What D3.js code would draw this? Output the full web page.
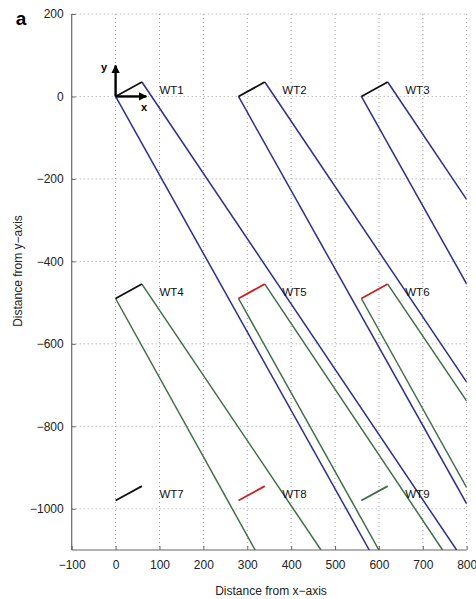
<!DOCTYPE html>
<html>
<head>
<meta charset="utf-8">
<script src="https://cdn.jsdelivr.net/npm/d3@7"></script>
<style>
  body { margin: 0; background: #fff; }
  svg { display: block; font-family: "Liberation Sans", Arial, Helvetica, sans-serif; }
</style>
</head>
<body>
<svg id="chart" width="476" height="599"></svg>
<script>
// ---- data ----
const turbines   = ["WT1","WT2","WT3","WT4","WT5","WT6","WT7","WT8","WT9"];
const baseX      = [0, 280, 560, 0, 280, 560, 0, 280, 560];
const baseY      = [0, 0, 0, -490, -490, -490, -980, -980, -980];
const tipX       = [60, 340, 620, 60, 340, 620, 60, 340, 620];
const tipY       = [35, 35, 35, -455, -455, -455, -945, -945, -945];
const rotorColor = ["black","black","black","black","red","red","black","red","green"];

// wake edges (only WT1-WT6): left edge starts at base, right edge at tip
const wakeTurbines = ["WT1","WT2","WT3","WT4","WT5","WT6"];
const wakeLeftEndX  = [578, 800, 800, 318, 600, 800];
const wakeLeftEndY  = [-1100, -988, -455, -1100, -1100, -949];
const wakeRightEndX = [777, 800, 800, 468, 745, 800];
const wakeRightEndY = [-1100, -693, -250, -1100, -1100, -739];
const wakeColor     = ["blue","blue","blue","green","green","green"];

const xTicks = [-100, 0, 100, 200, 300, 400, 500, 600, 700, 800];
const yTicks = [-1000, -800, -600, -400, -200, 0, 200];

const colors = { black: "#111111", red: "#d01f1f", green: "#3f6e47", blue: "#2d2d8f" };

// ---- layout ----
const svg = d3.select("#chart");
const L = 71.7, R = 466.7, T = 14, B = 550;
const x = d3.scaleLinear().domain([-100, 800]).range([L, R]);
const y = d3.scaleLinear().domain([-1100, 200]).range([B, T]);
const fmt = d => (d < 0 ? "\u2212" + Math.abs(d) : String(d));

svg.append("defs").append("clipPath").attr("id", "clip")
  .append("rect").attr("x", L).attr("y", T).attr("width", R - L).attr("height", B - T);

// grid
const grid = svg.append("g").attr("stroke", "#a0a0a0").attr("stroke-width", 1)
  .attr("stroke-dasharray", "1,3");
grid.selectAll(".gx").data(xTicks.filter(d => d > -100)).join("line")
  .attr("x1", d => x(d)).attr("x2", d => x(d)).attr("y1", T).attr("y2", B);
grid.selectAll(".gy").data(yTicks).join("line")
  .attr("x1", L).attr("x2", R).attr("y1", d => y(d)).attr("y2", d => y(d));

// axes
const xAxis = svg.append("g").attr("transform", `translate(0,${B})`)
  .call(d3.axisBottom(x).tickValues(xTicks).tickSize(-4).tickPadding(10).tickFormat(fmt));
const yAxis = svg.append("g").attr("transform", `translate(${L},0)`)
  .call(d3.axisLeft(y).tickValues(yTicks).tickSize(-4).tickPadding(8).tickFormat(fmt));
yAxis.select(".domain").attr("d", `M0,${B}V${T}`);
xAxis.select(".domain").attr("d", `M${L},0H${R}`);
[xAxis, yAxis].forEach(a => {
  a.select(".domain").attr("stroke", "#666").attr("stroke-width", 1.2);
  a.selectAll(".tick line").attr("stroke", "#666");
  a.selectAll(".tick text").attr("font-size", 12).attr("fill", "#222")
    .attr("font-family", "Liberation Sans, Arial, sans-serif");
});

// wakes
const plot = svg.append("g").attr("clip-path", "url(#clip)");
const wakes = plot.append("g").attr("fill", "none").attr("stroke-width", 1.5);
wakeTurbines.forEach((name, i) => {
  const k = turbines.indexOf(name);
  wakes.append("line")
    .attr("x1", x(baseX[k])).attr("y1", y(baseY[k]))
    .attr("x2", x(wakeLeftEndX[i])).attr("y2", y(wakeLeftEndY[i]))
    .attr("stroke", colors[wakeColor[i]]);
  wakes.append("line")
    .attr("x1", x(tipX[k])).attr("y1", y(tipY[k]))
    .attr("x2", x(wakeRightEndX[i])).attr("y2", y(wakeRightEndY[i]))
    .attr("stroke", colors[wakeColor[i]]);
});

// rotors
plot.append("g").selectAll("line").data(turbines).join("line")
  .attr("x1", (d, i) => x(baseX[i])).attr("y1", (d, i) => y(baseY[i]))
  .attr("x2", (d, i) => x(tipX[i])).attr("y2", (d, i) => y(tipY[i]))
  .attr("stroke", (d, i) => colors[rotorColor[i]]).attr("stroke-width", 1.8);

// turbine labels
svg.append("g").selectAll("text").data(turbines).join("text")
  .attr("x", (d, i) => x(baseX[i] + 100)).attr("y", (d, i) => y(baseY[i] + 15))
  .attr("dy", "0.35em").attr("font-size", 11.5).attr("fill", "#111").text(d => d);

// coordinate arrows at WT1
const defs = svg.select("defs");
defs.append("marker").attr("id", "arr").attr("viewBox", "0 0 10 10")
  .attr("refX", 9).attr("refY", 5).attr("markerWidth", 3.6).attr("markerHeight", 3.6)
  .attr("markerUnits", "strokeWidth").attr("orient", "auto")
  .append("path").attr("d", "M0,0L10,5L0,10Z").attr("fill", "#000");
const arrows = svg.append("g").attr("stroke", "#000").attr("stroke-width", 2.4);
arrows.append("line").attr("x1", x(0)).attr("y1", y(0)).attr("x2", x(0)).attr("y2", y(75))
  .attr("marker-end", "url(#arr)");
arrows.append("line").attr("x1", x(0)).attr("y1", y(0)).attr("x2", x(70)).attr("y2", y(0))
  .attr("marker-end", "url(#arr)");
svg.append("text").attr("x", 104).attr("y", 67).attr("dy", "0.35em").attr("text-anchor", "middle")
  .attr("font-size", 11).attr("font-weight", "bold").text("y");
svg.append("text").attr("x", 144).attr("y", 107).attr("dy", "0.35em").attr("text-anchor", "middle")
  .attr("font-size", 11).attr("font-weight", "bold").text("x");

// axis titles
svg.append("text").attr("x", 271).attr("y", 591).attr("dy", "0.35em").attr("text-anchor", "middle")
  .attr("font-size", 12).attr("fill", "#222").text("Distance from x\u2212axis");
svg.append("text").attr("transform", "translate(18,271) rotate(-90)").attr("dy", "0.35em")
  .attr("text-anchor", "middle").attr("font-size", 12).attr("fill", "#222")
  .text("Distance from y\u2212axis");

// panel letter
svg.append("text").attr("x", 21).attr("y", 18).attr("dy", "0.35em").attr("text-anchor", "middle")
  .attr("font-size", 19).attr("font-weight", "bold").text("a");
</script>
</body>
</html>
